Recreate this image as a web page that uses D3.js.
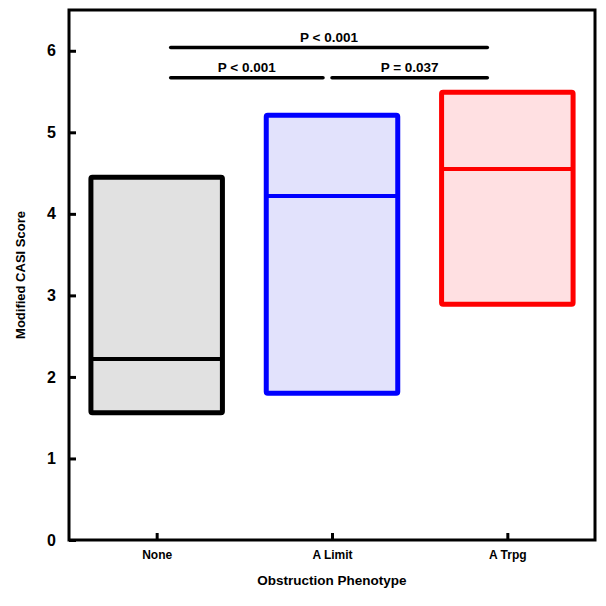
<html>
<head>
  <script src="https://d3js.org/d3.v7.min.js"></script>
  <style>
    body { margin: 0; background: #fff; }
    text { font-family: Arial, "Liberation Sans", sans-serif; font-weight: bold; }
  </style>
</head>
<body>
  <svg id="chart" width="606" height="606"></svg>
  <script>
    // data
    const groups = ['None', 'A Limit', 'A Trpg'];
    const boxLow = [1.56, 1.80, 2.89];
    const boxMedian = [2.22, 4.22, 4.55];
    const boxHigh = [4.45, 5.21, 5.49];
    const yTicks = [0, 1, 2, 3, 4, 5, 6];
    const bracketFrom = ['None', 'None', 'A Limit'];
    const bracketTo = ['A Trpg', 'A Limit', 'A Trpg'];
    const bracketY = [6.04, 5.67, 5.67];
    const bracketLabel = ['P < 0.001', 'P < 0.001', 'P = 0.037'];

    const strokes = ['#000000', '#0000ff', '#ff0000'];
    const fills = ['#e1e1e1', '#e2e2fc', '#ffe0e2'];

    const svg = d3.select('svg#chart');
    const margins = { top: 10, right: 11, bottom: 66, left: 69 };
    const chartWidth = 606 - margins.left - margins.right;
    const chartHeight = 606 - margins.top - margins.bottom;

    const chartArea = svg.append('g')
      .attr('transform', `translate(${margins.left},${margins.top})`);

    const xScale = d3.scalePoint()
      .domain(groups)
      .range([0, chartWidth])
      .padding(0.5);

    const yScale = d3.scaleLinear()
      .domain([0, 6.5])
      .range([chartHeight, 0]);

    const step = xScale.step();
    const boxW = step * 0.75;

    // frame
    chartArea.append('rect')
      .attr('x', 0).attr('y', 0)
      .attr('width', chartWidth).attr('height', chartHeight)
      .attr('fill', 'none')
      .attr('stroke', '#000')
      .attr('stroke-width', 3);

    // axes, ticks pointing inward
    const leftAxis = d3.axisLeft(yScale).tickValues(yTicks).tickFormat(d3.format('d'))
      .tickSize(-7).tickPadding(13);
    const gy = chartArea.append('g').call(leftAxis);
    gy.select('.domain').remove();
    gy.selectAll('line').attr('stroke', '#000').attr('stroke-width', 3);
    gy.selectAll('text').style('font-size', '16px').attr('fill', '#000');

    const bottomAxis = d3.axisBottom(xScale).tickSize(-7).tickPadding(10);
    const gx = chartArea.append('g')
      .attr('transform', `translate(0,${chartHeight})`)
      .call(bottomAxis);
    gx.select('.domain').remove();
    gx.selectAll('line').attr('stroke', '#000').attr('stroke-width', 3);
    gx.selectAll('text').style('font-size', '12px').attr('fill', '#000');

    // boxes
    const boxes = groups.map((g, i) => ({ g, lo: boxLow[i], med: boxMedian[i], hi: boxHigh[i], i }));

    chartArea.selectAll('rect.box').data(boxes)
      .join('rect')
      .attr('class', 'box')
      .attr('x', d => xScale(d.g) - boxW / 2)
      .attr('y', d => yScale(d.hi))
      .attr('width', boxW)
      .attr('height', d => yScale(d.lo) - yScale(d.hi))
      .attr('fill', d => fills[d.i])
      .attr('stroke', d => strokes[d.i])
      .attr('stroke-width', 5)
      .attr('rx', 1.5);

    chartArea.selectAll('line.median').data(boxes)
      .join('line')
      .attr('class', 'median')
      .attr('x1', d => xScale(d.g) - boxW / 2)
      .attr('x2', d => xScale(d.g) + boxW / 2)
      .attr('y1', d => yScale(d.med))
      .attr('y2', d => yScale(d.med))
      .attr('stroke', d => strokes[d.i])
      .attr('stroke-width', 4);

    // significance brackets
    const brackets = bracketFrom.map((f, i) => ({ f, t: bracketTo[i], y: bracketY[i], label: bracketLabel[i] }));
    const x1Of = d => xScale(d.f) + (d.f === 'None' ? 14 : 0);
    const x2Of = d => xScale(d.t) - (d.t === 'A Trpg' ? 20 : 9);

    chartArea.selectAll('line.bracket').data(brackets)
      .join('line')
      .attr('class', 'bracket')
      .attr('x1', x1Of)
      .attr('x2', x2Of)
      .attr('y1', d => yScale(d.y))
      .attr('y2', d => yScale(d.y))
      .attr('stroke', '#000')
      .attr('stroke-width', 3.5)
      .attr('stroke-linecap', 'round');

    chartArea.selectAll('text.plabel').data(brackets)
      .join('text')
      .attr('class', 'plabel')
      .attr('x', d => (x1Of(d) + x2Of(d)) / 2)
      .attr('y', d => yScale(d.y) - 6)
      .attr('text-anchor', 'middle')
      .style('font-size', '13.5px')
      .text(d => d.label);

    // axis titles
    svg.append('text')
      .attr('transform', `translate(25,${margins.top + chartHeight / 2}) rotate(-90)`)
      .attr('text-anchor', 'middle')
      .style('font-size', '13px')
      .text('Modified CASI Score');

    svg.append('text')
      .attr('x', margins.left + chartWidth / 2)
      .attr('y', 585)
      .attr('text-anchor', 'middle')
      .style('font-size', '13.5px')
      .text('Obstruction Phenotype');
  </script>
</body>
</html>
